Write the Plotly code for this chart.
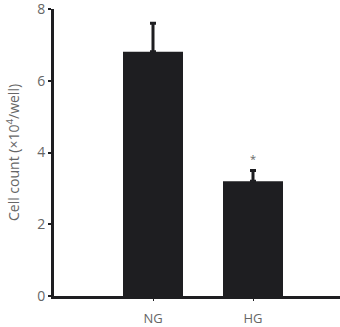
import plotly.graph_objects as go

categories = ["NG", "HG"]
values = [6.81, 3.2]
errors = [0.79, 0.3]
significance = ["", "*"]
y_ticks = [0, 2, 4, 6, 8]

bar_color = "#1e1e21"
text_color = "#666666"
font_family = "Open Sans, Lato, sans-serif"

fig = go.Figure()
fig.add_trace(go.Bar(
    x=list(range(len(categories))),
    y=values,
    width=0.6,
    marker=dict(color=bar_color, line=dict(width=0)),
    error_y=dict(type="data", array=errors, arrayminus=[0] * len(errors),
                 symmetric=False, color=bar_color, thickness=3, width=3),
))

for i, (v, e, s) in enumerate(zip(values, errors, significance)):
    if s:
        fig.add_annotation(x=i, y=v + e, text=s, showarrow=False, yshift=12,
                           font=dict(size=11, color=text_color, family=font_family))

fig.update_layout(
    width=340, height=327,
    margin=dict(l=54, r=0, t=9, b=31, autoexpand=False),
    plot_bgcolor="white", paper_bgcolor="white",
    showlegend=False,
    font=dict(family=font_family, color=text_color, size=12),
    xaxis=dict(
        range=[-0.99, 1.87],
        tickmode="array", tickvals=list(range(len(categories))), ticktext=categories,
        showline=True, linecolor=bar_color, linewidth=2.5,
        ticks="outside", ticklen=2, tickwidth=1, tickcolor=bar_color,
        ticklabelstandoff=7,
        showgrid=False, zeroline=False, automargin=False,
        tickfont=dict(size=13, color=text_color),
    ),
    yaxis=dict(
        range=[0, 8],
        tickmode="array", tickvals=y_ticks,
        showline=True, linecolor=bar_color, linewidth=3,
        ticks="outside", ticklen=3, tickwidth=1.5, tickcolor=bar_color,
        showgrid=False, zeroline=False, automargin=False,
        ticklabeloverflow="allow",
        tickfont=dict(size=14, color=text_color),
        title=dict(text="Cell count (×10<sup>4</sup>/well)", standoff=15,
                   font=dict(size=14, color=text_color)),
    ),
)

fig.write_html("out.html", config={"displayModeBar": False},
               post_script="document.body.style.margin='0';")
